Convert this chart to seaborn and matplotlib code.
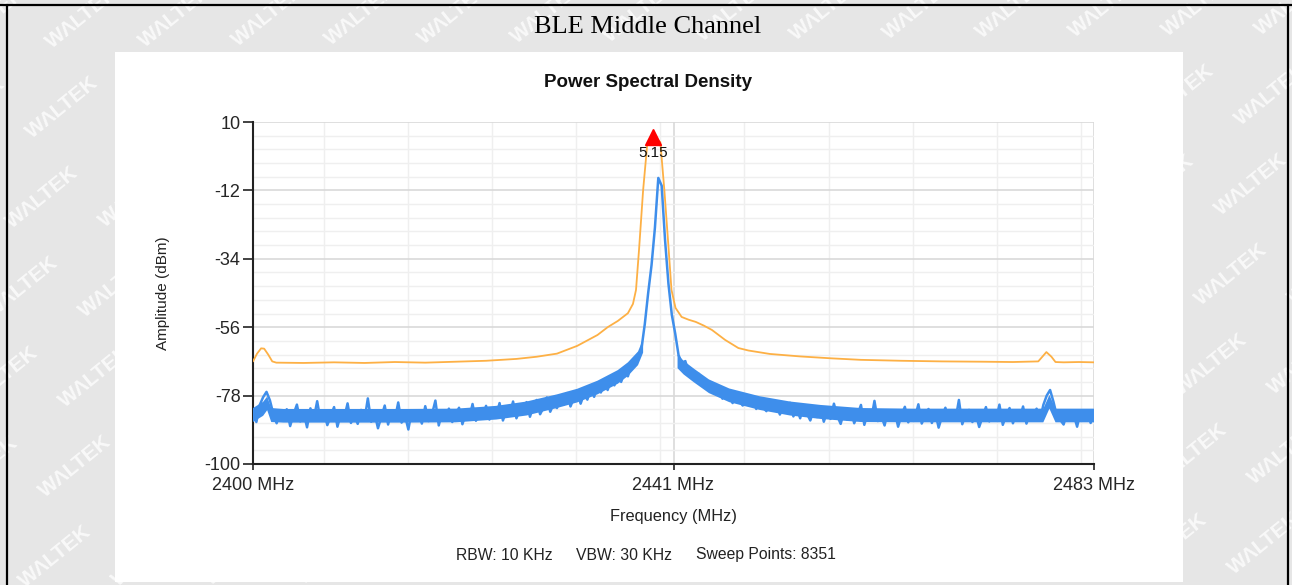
import matplotlib.pyplot as plt
import matplotlib.ticker as mticker
from matplotlib.lines import Line2D
from matplotlib.patches import Rectangle
import numpy as np
import pandas as pd
import seaborn as sns

# ---- data ----
sweep_start, sweep_stop = 2400.0, 2483.0   # MHz

y_ticks = [10, -12, -34, -56, -78, -100]
x_ticks = [2400.0, 2441.5, 2483.0]
x_tick_labels = ['2400 MHz', '2441 MHz', '2483 MHz']

# max-hold trace (orange)
maxhold_freq = [
    2400.0, 2400.4, 2400.8, 2401.1, 2401.5, 2401.9, 2402.3, 2405.0, 2408.0,
    2411.0, 2414.0, 2417.0, 2420.0, 2423.0, 2426.0, 2428.0, 2430.0, 2432.0,
    2434.0, 2435.0, 2436.0, 2437.0, 2437.5, 2437.8, 2438.1, 2438.5, 2438.9,
    2439.5, 2440.2, 2440.6, 2441.0, 2441.3, 2441.7, 2442.3, 2443.0, 2443.7,
    2444.5, 2445.3, 2446.6, 2447.9, 2448.9, 2451.0, 2454.0, 2457.0, 2460.0,
    2464.0, 2468.0, 2472.0, 2475.0, 2477.5, 2477.9, 2478.3, 2478.8, 2479.2,
    2480.0, 2481.5, 2483.0,
]
maxhold_dbm = [
    -67.0, -64.5, -62.8, -62.9, -64.8, -67.0, -67.4, -67.5, -67.3,
    -67.5, -67.2, -67.4, -67.1, -66.8, -66.2, -65.5, -64.5, -62.0,
    -58.5, -56.0, -54.0, -51.5, -48.5, -44.0, -31.0, -12.0, 2.5,
    5.15, 3.5, -12.0, -30.0, -44.0, -49.8, -52.7, -53.6, -54.3,
    -55.5, -56.9, -60.1, -62.7, -63.5, -64.6, -65.4, -66.0, -66.5,
    -66.8, -67.0, -67.1, -67.2, -67.0, -65.5, -64.0, -65.5, -67.2,
    -67.3, -67.2, -67.3,
]

# clear-write trace (blue), evenly spaced over the sweep
clearwrite_dbm = [
    -84.1, -86.5, -81.0, -78.5, -76.8, -79.5, -83.8, -86.9, -83.2, -85.7,
    -82.4, -87.8, -84.0, -80.9, -86.3, -83.5, -88.2, -82.1, -85.4, -79.8,
    -86.0, -83.1, -87.5, -84.6, -81.7, -88.0, -83.9, -85.2, -80.5, -86.8,
    -84.3, -87.1, -82.6, -85.9, -78.9, -86.4, -83.7, -88.5, -84.8, -81.2,
    -87.3, -83.0, -85.6, -80.2, -86.7, -84.4, -88.9, -82.9, -85.1, -83.6,
    -87.0, -81.4, -86.2, -84.0, -79.6, -87.6, -83.3, -85.8, -82.2, -86.5,
    -84.2, -81.9, -87.2, -83.8, -85.5, -80.7, -86.1, -83.4, -84.9, -81.3,
    -85.7, -82.1, -84.6, -80.4, -86.0, -82.8, -84.1, -79.9, -85.3, -82.5,
    -83.6, -80.1, -84.8, -81.5, -79.4, -84.0, -81.9, -78.6, -83.2, -80.7,
    -82.0, -78.3, -80.9, -77.2, -81.5, -78.8, -76.4, -80.6, -77.5, -79.3,
    -75.6, -78.4, -74.8, -77.0, -73.5, -76.2, -72.9, -74.7, -71.3, -73.6,
    -70.2, -71.8, -68.0, -67.0, -66.0, -63.0, -55.0, -45.0, -36.0, -24.0,
    -8.0, -10.5, -28.0, -42.0, -52.0, -58.0, -65.0, -67.5, -66.9, -70.8,
    -69.5, -73.2, -71.0, -74.6, -72.8, -76.3, -74.1, -77.5, -75.2, -79.0,
    -76.6, -78.3, -80.4, -77.1, -79.8, -81.2, -78.0, -80.6, -78.7, -82.3,
    -79.4, -81.8, -83.0, -79.9, -82.6, -80.8, -84.1, -81.5, -83.4, -80.3,
    -84.7, -82.0, -85.3, -81.1, -83.8, -86.0, -82.7, -84.9, -81.8, -86.4,
    -83.2, -85.5, -80.6, -84.6, -87.1, -83.0, -85.8, -82.4, -86.9, -84.1,
    -81.0, -87.4, -83.6, -85.9, -79.7, -86.2, -84.5, -87.6, -82.8, -85.3,
    -83.1, -88.0, -84.2, -81.6, -86.6, -83.9, -85.0, -80.8, -87.0, -84.4,
    -82.3, -86.8, -83.5, -88.3, -84.7, -81.9, -86.1, -83.2, -85.7, -79.4,
    -87.2, -84.0, -82.6, -86.5, -83.8, -88.1, -84.9, -81.7, -86.3, -83.4,
    -85.6, -80.9, -87.4, -84.3, -82.0, -86.9, -83.7, -85.4, -81.5, -87.0,
    -83.9, -84.8, -82.2, -86.0, -81.0, -78.0, -76.2, -80.0, -84.5, -85.8,
    -87.3, -83.6, -86.1, -84.2, -88.0, -83.1, -85.9, -82.7, -86.8, -84.4,
]

# dense core of the blue noise band (low / high edge); nan = no band (carrier)
nan = float('nan')
band_freq = [
    2400.0, 2401.0, 2401.4, 2401.8, 2403.0, 2410.0, 2415.0, 2420.0, 2424.0,
    2427.0, 2430.0, 2432.0, 2434.0, 2436.0, 2437.0, 2438.0, 2438.5, 2440.0,
    2441.9, 2442.5, 2443.5, 2445.0, 2447.0, 2450.0, 2453.0, 2456.0, 2460.0,
    2465.0, 2470.0, 2475.0, 2478.0, 2478.6, 2479.2, 2483.0,
]
band_lo = [
    -86.5, -84.5, -82.7, -86.5, -86.7, -86.7, -86.7, -86.6, -85.7,
    -84.4, -82.0, -80.2, -77.6, -74.2, -71.7, -68.2, -64.2, nan,
    -69.2, -71.2, -73.7, -77.2, -80.1, -82.6, -84.4, -85.5, -86.5,
    -86.6, -86.6, -86.6, -86.6, -82.2, -86.6, -86.6,
]
band_hi = [
    -82.0, -80.0, -78.3, -82.0, -82.3, -82.3, -82.3, -82.2, -81.3,
    -79.9, -77.6, -75.8, -73.2, -69.8, -67.3, -63.8, -59.8, nan,
    -64.8, -66.8, -69.3, -72.8, -75.7, -78.2, -79.9, -81.0, -82.0,
    -82.2, -82.2, -82.2, -82.2, -77.8, -82.2, -82.2,
]

footer = ['RBW: 10 KHz', 'VBW: 30 KHz', 'Sweep Points: 8351']

# ---- styling ----
W, H = 1292, 585
ORANGE = '#FDB045'
BLUE = '#3E8EEB'

sns.set_style('white')
plt.rcParams['font.family'] = ['Liberation Sans', 'DejaVu Sans']
plt.rcParams['axes.unicode_minus'] = False


def fx(px):
    return px / W


def fy(py):
    return 1 - py / H


fig = plt.figure(figsize=(W / 100, H / 100), dpi=100, facecolor='#e6e6e6')

# watermark tiling on the grey page
for r in range(-4, 8):
    for c in range(-3, 16):
        px = 42 + 93 * c - 20 * r
        py = 198 - c + 90 * r
        if -70 < px < W + 70 and -50 < py < H + 50:
            fig.text(fx(px), fy(py), 'W\u039bLTEK', rotation=39, color='white',
                     alpha=0.75, fontsize=15, fontweight='bold',
                     ha='center', va='center', zorder=-3)

# white chart panel
fig.add_artist(Rectangle((fx(115), fy(582)), fx(1183) - fx(115), fy(52) - fy(582),
                         transform=fig.transFigure, facecolor='white',
                         edgecolor='none', zorder=-2))

# table borders
fig.add_artist(Line2D([0, 1], [fy(4.5)] * 2, transform=fig.transFigure,
                      color='black', lw=1.6, zorder=5))
for bx in (6.5, 1287.5):
    fig.add_artist(Line2D([fx(bx)] * 2, [0, fy(4.5)], transform=fig.transFigure,
                          color='black', lw=1.6, zorder=5))

ax = fig.add_axes([fx(253), fy(464), fx(1094) - fx(253), fy(122) - fy(464)])
ax.set_facecolor('white')

maxhold = pd.DataFrame({'freq': maxhold_freq, 'dbm': maxhold_dbm})
clearwrite = pd.DataFrame({
    'freq': np.linspace(sweep_start, sweep_stop, len(clearwrite_dbm)),
    'dbm': clearwrite_dbm,
})
band = pd.DataFrame({'freq': band_freq, 'lo': band_lo, 'hi': band_hi})

sns.lineplot(data=maxhold, x='freq', y='dbm', color=ORANGE, lw=1.3,
             estimator=None, ax=ax, zorder=3)
ax.fill_between(band['freq'], band['lo'], band['hi'],
                where=np.isfinite(band['hi']), color=BLUE, lw=0, zorder=3)
sns.lineplot(data=clearwrite, x='freq', y='dbm', color=BLUE, lw=1.8,
             estimator=None, ax=ax, zorder=3)

# peak marker
pk = maxhold['dbm'].idxmax()
pk_f, pk_v = maxhold.loc[pk, 'freq'], maxhold.loc[pk, 'dbm']
ax.plot(pk_f, pk_v, marker='^', color='#ff0000', ms=11, zorder=5, clip_on=False)
ax.annotate(f'{pk_v:.2f}', (pk_f, pk_v), xytext=(0, -11.5),
            textcoords='offset points', ha='center', va='center',
            fontsize=11, color='#111111', zorder=6)

ax.set_xlim(sweep_start, sweep_stop)
ax.set_ylim(-100, 10)
ax.set_yticks(y_ticks)
ax.set_xticks(x_ticks, labels=x_tick_labels)
ax.yaxis.set_minor_locator(mticker.AutoMinorLocator(5))
ax.xaxis.set_minor_locator(mticker.MultipleLocator(8.3))

ax.grid(which='major', color='#d9d9d9', lw=1.2, zorder=0)
ax.grid(which='minor', color='#efefef', lw=1.0, zorder=0)
ax.set_axisbelow(True)

for side in ('top', 'right'):
    ax.spines[side].set_visible(False)
for side in ('left', 'bottom'):
    ax.spines[side].set_color('#222222')
    ax.spines[side].set_linewidth(1.5)

ax.tick_params(axis='y', which='major', direction='out', length=7.5, width=1.2,
               color='#222222', labelsize=13, pad=1.5, left=True)
ax.tick_params(axis='x', which='major', direction='out', length=4, width=1.2,
               color='#222222', labelsize=13, pad=5, bottom=True)
ax.tick_params(which='minor', length=0)

ax.set_xlabel('Frequency (MHz)', fontsize=11.8, color='#222222')
ax.xaxis.set_label_coords((673 - 253) / 841, (464 - 517) / 342)
ax.xaxis.label.set_va('center')
ax.set_ylabel('Amplitude (dBm)', fontsize=11, color='#222222')
ax.yaxis.set_label_coords((163 - 253) / 841, 0.5)
ax.yaxis.label.set_va('center')

fig.text(fx(648), fy(87), 'Power Spectral Density', fontsize=13.5,
         fontweight='bold', ha='center', va='baseline', color='#111111')
fig.text(fx(648), fy(33), 'BLE Middle Channel', family='Liberation Serif',
         fontsize=19, ha='center', va='baseline', color='black')

for txt, px in zip(footer, (456, 576, 696)):
    fig.text(fx(px), fy(555), txt, fontsize=11.3, ha='left', va='center',
             color='#222222')

fig.savefig('out.png', dpi=100, facecolor=fig.get_facecolor())
